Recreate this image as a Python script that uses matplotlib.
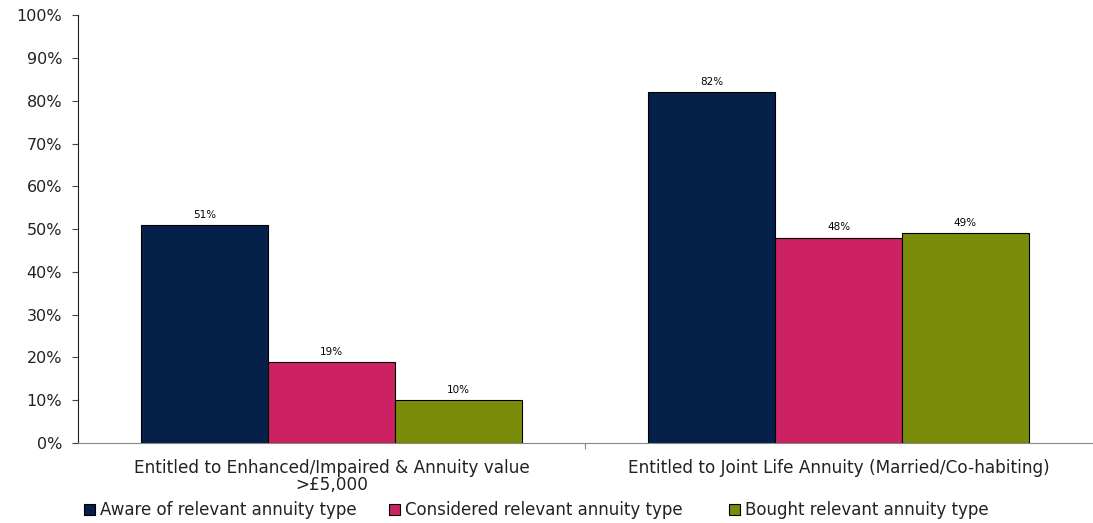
import numpy as np
import matplotlib.pyplot as plt
from matplotlib.ticker import PercentFormatter
from matplotlib.patches import Patch

categories = ["Entitled to Enhanced/Impaired & Annuity value\n>£5,000",
              "Entitled to Joint Life Annuity (Married/Co-habiting)"]
series = ["Aware of relevant annuity type",
          "Considered relevant annuity type",
          "Bought relevant annuity type"]
aware = [51, 82]
considered = [19, 48]
bought = [10, 49]
colors = ["#062149", "#CC2162", "#7A8C09"]

plt.rcParams["font.family"] = "DejaVu Sans"

fig = plt.figure(figsize=(10.93, 5.23), dpi=100)
ax = fig.add_axes([0.0714, 0.153, 0.9277, 0.818])

x = np.arange(len(categories))
width = 0.25
for i, vals in enumerate([aware, considered, bought]):
    bars = ax.bar(x + (i - 1) * width, vals, width, color=colors[i],
                  edgecolor="black", linewidth=0.8)
    for b, v in zip(bars, vals):
        ax.text(b.get_x() + b.get_width() / 2, v + 1.2, f"{v}%",
                ha="center", va="bottom", fontsize=7.5)

ax.set_xlim(-0.5, 1.5)
ax.set_ylim(0, 100)
ax.set_yticks(range(0, 101, 10))
ax.yaxis.set_major_formatter(PercentFormatter(decimals=0))
ax.tick_params(axis="y", labelsize=11.5, length=4.5, pad=7, color="#444444",
               labelcolor="#222222")

# group boundary tick in the middle, category names centred under groups
ax.set_xticks([0.5])
ax.set_xticklabels([])
ax.set_xticks(x, minor=True)
ax.set_xticklabels(categories, minor=True, fontsize=12.2, color="#222222",
                   linespacing=0.95)
ax.tick_params(axis="x", which="minor", length=0, pad=11.5)
ax.tick_params(axis="x", which="major", length=4, color="#888888")

for s in ["top", "right"]:
    ax.spines[s].set_visible(False)
ax.spines["left"].set_color("#222222")
ax.spines["bottom"].set_color("#888888")

# one legend per series so each entry sits at its own spot
for name, col, xpos in zip(series, colors, [0.077, 0.356, 0.667]):
    leg = fig.legend(handles=[Patch(facecolor=col, edgecolor="black", linewidth=0.8)],
                     labels=[name], loc="center left",
                     bbox_to_anchor=(xpos, 0.024), frameon=False,
                     fontsize=12, handlelength=0.65, handleheight=0.65,
                     handletextpad=0.3, borderpad=0, borderaxespad=0)
    for t in leg.get_texts():
        t.set_color("#222222")

fig.savefig("out.png", dpi=100)
